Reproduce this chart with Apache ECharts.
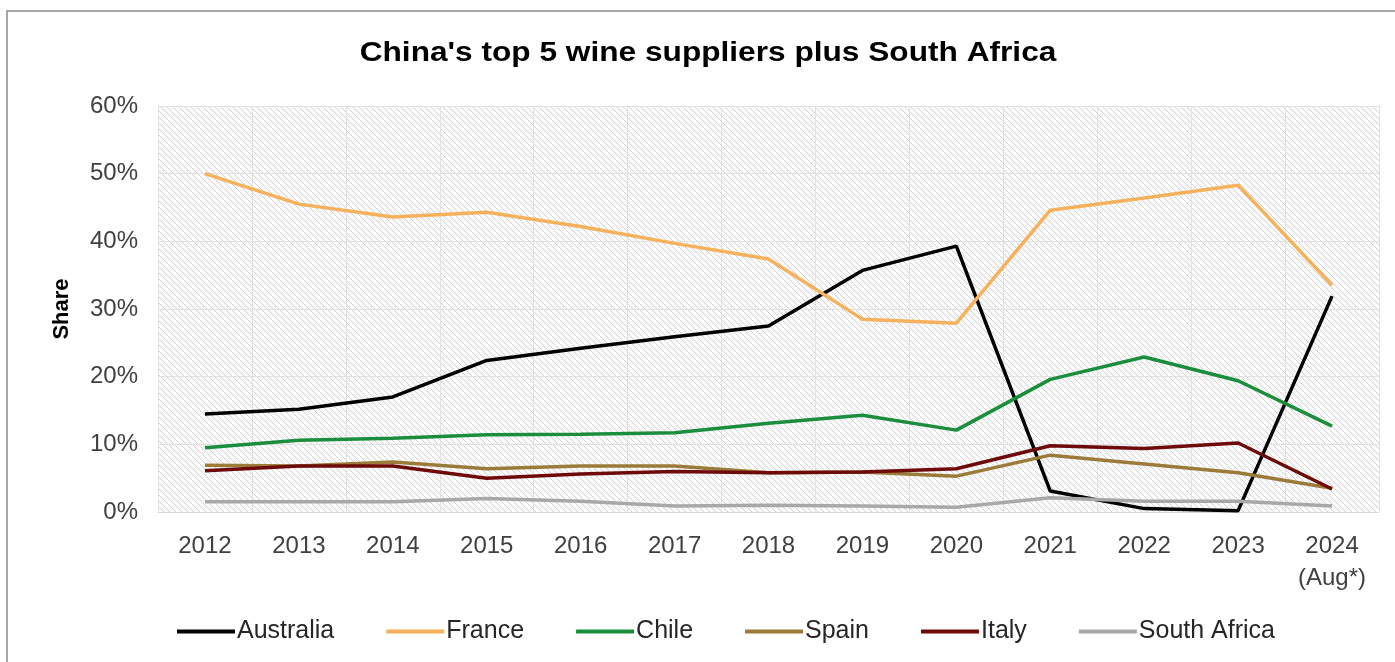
<!DOCTYPE html>
<html>
<head>
<meta charset="utf-8">
<script src="https://cdn.jsdelivr.net/npm/echarts@6/dist/echarts.min.js"></script>
<style>
  html, body { margin: 0; padding: 0; background: #ffffff; }
  #chart { width: 1395px; height: 662px; }
</style>
</head>
<body>
<div id="chart"></div>
<script>
// Years on the category axis
const years = ['2012', '2013', '2014', '2015', '2016', '2017', '2018', '2019', '2020', '2021', '2022', '2023', '2024\n(Aug*)'];

// Share of China's wine imports, in percent
const australia   = [14.5, 15.2, 17.0, 22.4, 24.2, 25.9, 27.5, 35.7, 39.3, 3.1, 0.5, 0.2, 31.9];
const france      = [50.0, 45.5, 43.6, 44.3, 42.2, 39.7, 37.4, 28.5, 27.9, 44.6, 46.4, 48.3, 33.5];
const chile       = [9.5, 10.6, 10.9, 11.4, 11.5, 11.7, 13.1, 14.3, 12.1, 19.6, 22.9, 19.4, 12.7];
const spain       = [6.9, 6.8, 7.4, 6.4, 6.8, 6.8, 5.8, 5.9, 5.3, 8.4, 7.1, 5.8, 3.5];
const italy       = [6.1, 6.8, 6.8, 5.0, 5.6, 6.0, 5.8, 5.9, 6.4, 9.8, 9.4, 10.2, 3.4];
const southAfrica = [1.5, 1.5, 1.5, 2.0, 1.6, 0.9, 1.0, 0.9, 0.7, 2.1, 1.6, 1.6, 0.9];

// Y-axis ticks
const yMin = 0, yMax = 60, yStep = 10;

// Diagonal hatch fill for the plot area
function hatch() {
  const s = 6;
  const c = document.createElement('canvas');
  c.width = s; c.height = s;
  const g = c.getContext('2d');
  g.fillStyle = '#fbfbfb';
  g.fillRect(0, 0, s, s);
  g.strokeStyle = '#d2d2d2';
  g.lineWidth = 1;
  for (let k = -1; k <= 1; k++) {
    g.beginPath();
    g.moveTo(k * s, 0);
    g.lineTo(k * s + s, s);
    g.stroke();
  }
  return c;
}

const font = '"Liberation Sans", Arial, sans-serif';
const chart = echarts.init(document.getElementById('chart'));

function line(name, data, color) {
  return {
    name: name, type: 'line', data: data,
    symbol: 'none',
    lineStyle: { color: color, width: 3.5 },
    itemStyle: { color: color }
  };
}

chart.setOption({
  animation: false,
  backgroundColor: '#ffffff',
  graphic: [{
    type: 'rect',
    shape: { x: 7, y: 11, width: 1400, height: 700 },
    style: { fill: 'none', stroke: '#8c8c8c', lineWidth: 1.5 },
    silent: true
  }, {
    // chart heading, set slightly wide
    type: 'text',
    x: 708, y: 39, scaleX: 1.13, originX: 0,
    style: {
      text: "China's top 5 wine suppliers plus South Africa",
      fontFamily: font, fontSize: 28, fontWeight: 'bold', fill: '#000000',
      align: 'center', verticalAlign: 'top'
    },
    silent: true
  }],
  legend: {
    left: 172, top: 614,
    icon: 'rect', itemWidth: 58, itemHeight: 4, itemGap: 52,
    textStyle: { fontFamily: font, fontSize: 25, color: '#262626', padding: [0, 0, 0, -3] },
    data: ['Australia', 'France', 'Chile', 'Spain', 'Italy', 'South Africa']
  },
  grid: {
    left: 158, right: 16, top: 106, height: 406,
    show: true, borderWidth: 0,
    backgroundColor: { image: hatch(), repeat: 'repeat' }
  },
  xAxis: {
    type: 'category', data: years, boundaryGap: true,
    axisLine: { show: true, lineStyle: { color: '#d9d9d9', width: 1 } },
    axisTick: { show: false },
    axisLabel: {
      fontFamily: font, fontSize: 24, color: '#404040', margin: 18,
      interval: 0, lineHeight: 32, verticalAlign: 'top'
    },
    splitLine: { show: true, interval: 0, lineStyle: { color: '#e2e2e2', width: 1 } }
  },
  yAxis: {
    type: 'value', min: yMin, max: yMax, interval: yStep,
    name: 'Share', nameLocation: 'middle', nameGap: 85, nameRotate: 90,
    nameTextStyle: { fontFamily: font, fontSize: 22, fontWeight: 'bold', color: '#000000' },
    axisLine: { show: false }, axisTick: { show: false },
    axisLabel: { fontFamily: font, fontSize: 24, color: '#404040', margin: 20, formatter: '{value}%' },
    splitLine: { show: true, lineStyle: { color: '#e2e2e2', width: 1 } }
  },
  series: [
    line('Australia', australia, '#000000'),
    line('France', france, '#f5b15b'),
    line('Chile', chile, '#1b8e3e'),
    line('Spain', spain, '#9b7b3a'),
    line('Italy', italy, '#6e0a0a'),
    line('South Africa', southAfrica, '#a8a8a8')
  ]
});
</script>
</body>
</html>
